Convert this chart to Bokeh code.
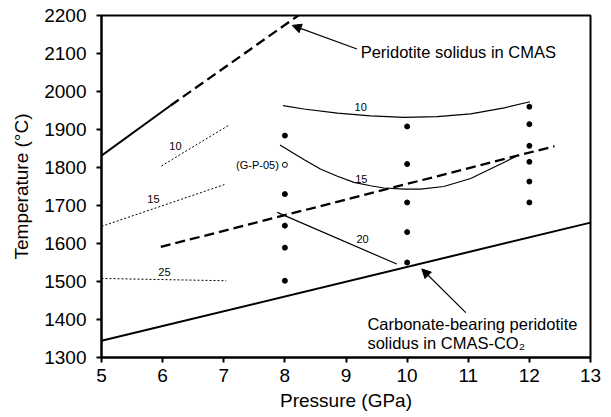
from bokeh.plotting import figure
from bokeh.models import Range1d, FixedTicker, Arrow, NormalHead
from bokeh.core.properties import value
from bokeh.embed import file_html
from bokeh.resources import INLINE

FONT = "Liberation Sans"

# ---- data ----
x_ticks = [5, 6, 7, 8, 9, 10, 11, 12, 13]
y_ticks = [1300, 1400, 1500, 1600, 1700, 1800, 1900, 2000, 2100, 2200]

# Peridotite solidus in CMAS (solid part then dashed part)
cmas_solid_p = [5.0, 6.13]
cmas_solid_t = [1831, 1963]
cmas_dash_p = [6.13, 8.22]
cmas_dash_t = [1963, 2200]

# Carbonate-bearing peridotite solidus in CMAS-CO2
carb_p = [5.0, 13.0]
carb_t = [1344, 1655]

# bold dashed line in the middle
mid_dash_p = [5.97, 12.41]
mid_dash_t = [1591, 1856]

# thin dotted lines (10, 15, 25)
dot10_p = [5.98, 7.09]
dot10_t = [1804, 1912]
dot15_p = [5.0, 7.01]
dot15_t = [1645, 1755]
dot25_p = [5.0, 7.04]
dot25_t = [1508, 1502]

# solid curves 10 and 15, straight line 20
c10_p = [7.97, 8.31, 8.86, 9.40, 9.95, 10.49, 11.04, 11.59, 12.01]
c10_t = [1963, 1954, 1943, 1936, 1932, 1934, 1941, 1957, 1973]
c15_p = [7.92, 8.31, 8.58, 8.86, 9.13, 9.40, 9.62, 9.95, 10.22, 10.60, 11.04, 11.31, 11.59, 11.78]
c15_t = [1859, 1821, 1796, 1777, 1761, 1752, 1746, 1743, 1743, 1750, 1771, 1792, 1814, 1829]
c20_p = [7.875, 9.83]
c20_t = [1682, 1546]

# experiment points
pts_p = [8, 8, 8, 8, 8, 10, 10, 10, 10, 10, 12, 12, 12, 12, 12, 12]
pts_t = [1884, 1730, 1647, 1589, 1502, 1908, 1809, 1708, 1630, 1550, 1960, 1914, 1857, 1815, 1763, 1708]
open_p = [8]
open_t = [1807]
open_label = ["(G-P-05)"]

# small labels
small_lab_text = ["10", "15", "25", "10", "15", "20"]
small_lab_p = [6.21, 5.85, 6.03, 9.24, 9.25, 9.27]
small_lab_t = [1857, 1718, 1526, 1960, 1770, 1612]

# annotation texts
ann_text = ["Peridotite solidus in CMAS", "Carbonate-bearing peridotite", "solidus in CMAS-CO\u2082"]
ann_p = [9.24, 9.35, 9.35]
ann_t = [2105, 1389, 1339]

# arrows (tail -> head)
arrow_p0 = [9.18, 10.96]
arrow_t0 = [2112, 1418]
arrow_p1 = [8.12, 10.24]
arrow_t1 = [2174, 1533]

# ---- figure ----
p = figure(width=611, height=417, output_backend="svg", toolbar_location=None,
           x_range=Range1d(5, 13), y_range=Range1d(1300, 2200),
           min_border_left=101, min_border_right=21, min_border_top=15, min_border_bottom=60)
p.background_fill_color = "white"
p.border_fill_color = "white"
p.grid.visible = False
p.outline_line_color = "black"
p.outline_line_width = 2

for ax in (p.xaxis[0], p.yaxis[0]):
    ax.axis_line_width = 2
    ax.major_tick_line_width = 2
    ax.major_tick_out = 5
    ax.major_tick_in = 0
    ax.minor_tick_out = 0
    ax.minor_tick_in = 0
    ax.major_label_text_font = FONT
    ax.major_label_text_font_size = "19px"
    ax.major_label_text_color = "black"
    ax.axis_label_text_font = FONT
    ax.axis_label_text_font_size = "19px"
    ax.axis_label_text_font_style = "normal"
    ax.axis_label_text_color = "black"

p.xaxis.ticker = FixedTicker(ticks=x_ticks)
p.yaxis.ticker = FixedTicker(ticks=y_ticks)
p.xaxis.axis_label = "Pressure (GPa)"
p.yaxis.axis_label = "Temperature (\u00b0C)"
p.xaxis.major_label_standoff = 6
p.xaxis.axis_label_standoff = 5
p.yaxis.major_label_standoff = 10
p.yaxis.axis_label_standoff = 9

# lines
p.line(cmas_solid_p, cmas_solid_t, line_color="black", line_width=2)
p.line(cmas_dash_p, cmas_dash_t, line_color="black", line_width=2.3, line_dash="10 5")
p.line(carb_p, carb_t, line_color="black", line_width=2)
p.line(mid_dash_p, mid_dash_t, line_color="black", line_width=2.3, line_dash="10 5")
for xs, ys in ((dot10_p, dot10_t), (dot15_p, dot15_t), (dot25_p, dot25_t)):
    p.line(xs, ys, line_color="black", line_width=1, line_dash="2 2")
p.line(c10_p, c10_t, line_color="black", line_width=1.2)
p.line(c15_p, c15_t, line_color="black", line_width=1.2)
p.line(c20_p, c20_t, line_color="black", line_width=1.2)

# points
p.scatter(pts_p, pts_t, size=5, fill_color="black", line_color="black")
p.scatter(open_p, open_t, size=5, fill_color="white", line_color="black", line_width=1)
p.text(open_p, open_t, text=open_label, text_align="right", text_baseline="middle",
       x_offset=-6, text_font=value(FONT), text_font_size="11px", text_color="black")

# small labels
p.text(small_lab_p, small_lab_t, text=small_lab_text, text_align="center", text_baseline="middle",
       text_font=value(FONT), text_font_size="11px", text_color="black")

# annotation texts
p.text(ann_p, ann_t, text=ann_text, text_align="left", text_baseline="middle",
       text_font=value(FONT), text_font_size="16.5px", text_color="black")

# arrows
for i in range(len(arrow_p0)):
    p.add_layout(Arrow(end=NormalHead(size=9, fill_color="black", line_color="black", line_width=1),
                       x_start=arrow_p0[i], y_start=arrow_t0[i], x_end=arrow_p1[i], y_end=arrow_t1[i],
                       line_color="black", line_width=1.2))

open("out.html", "w").write(file_html(p, INLINE))
